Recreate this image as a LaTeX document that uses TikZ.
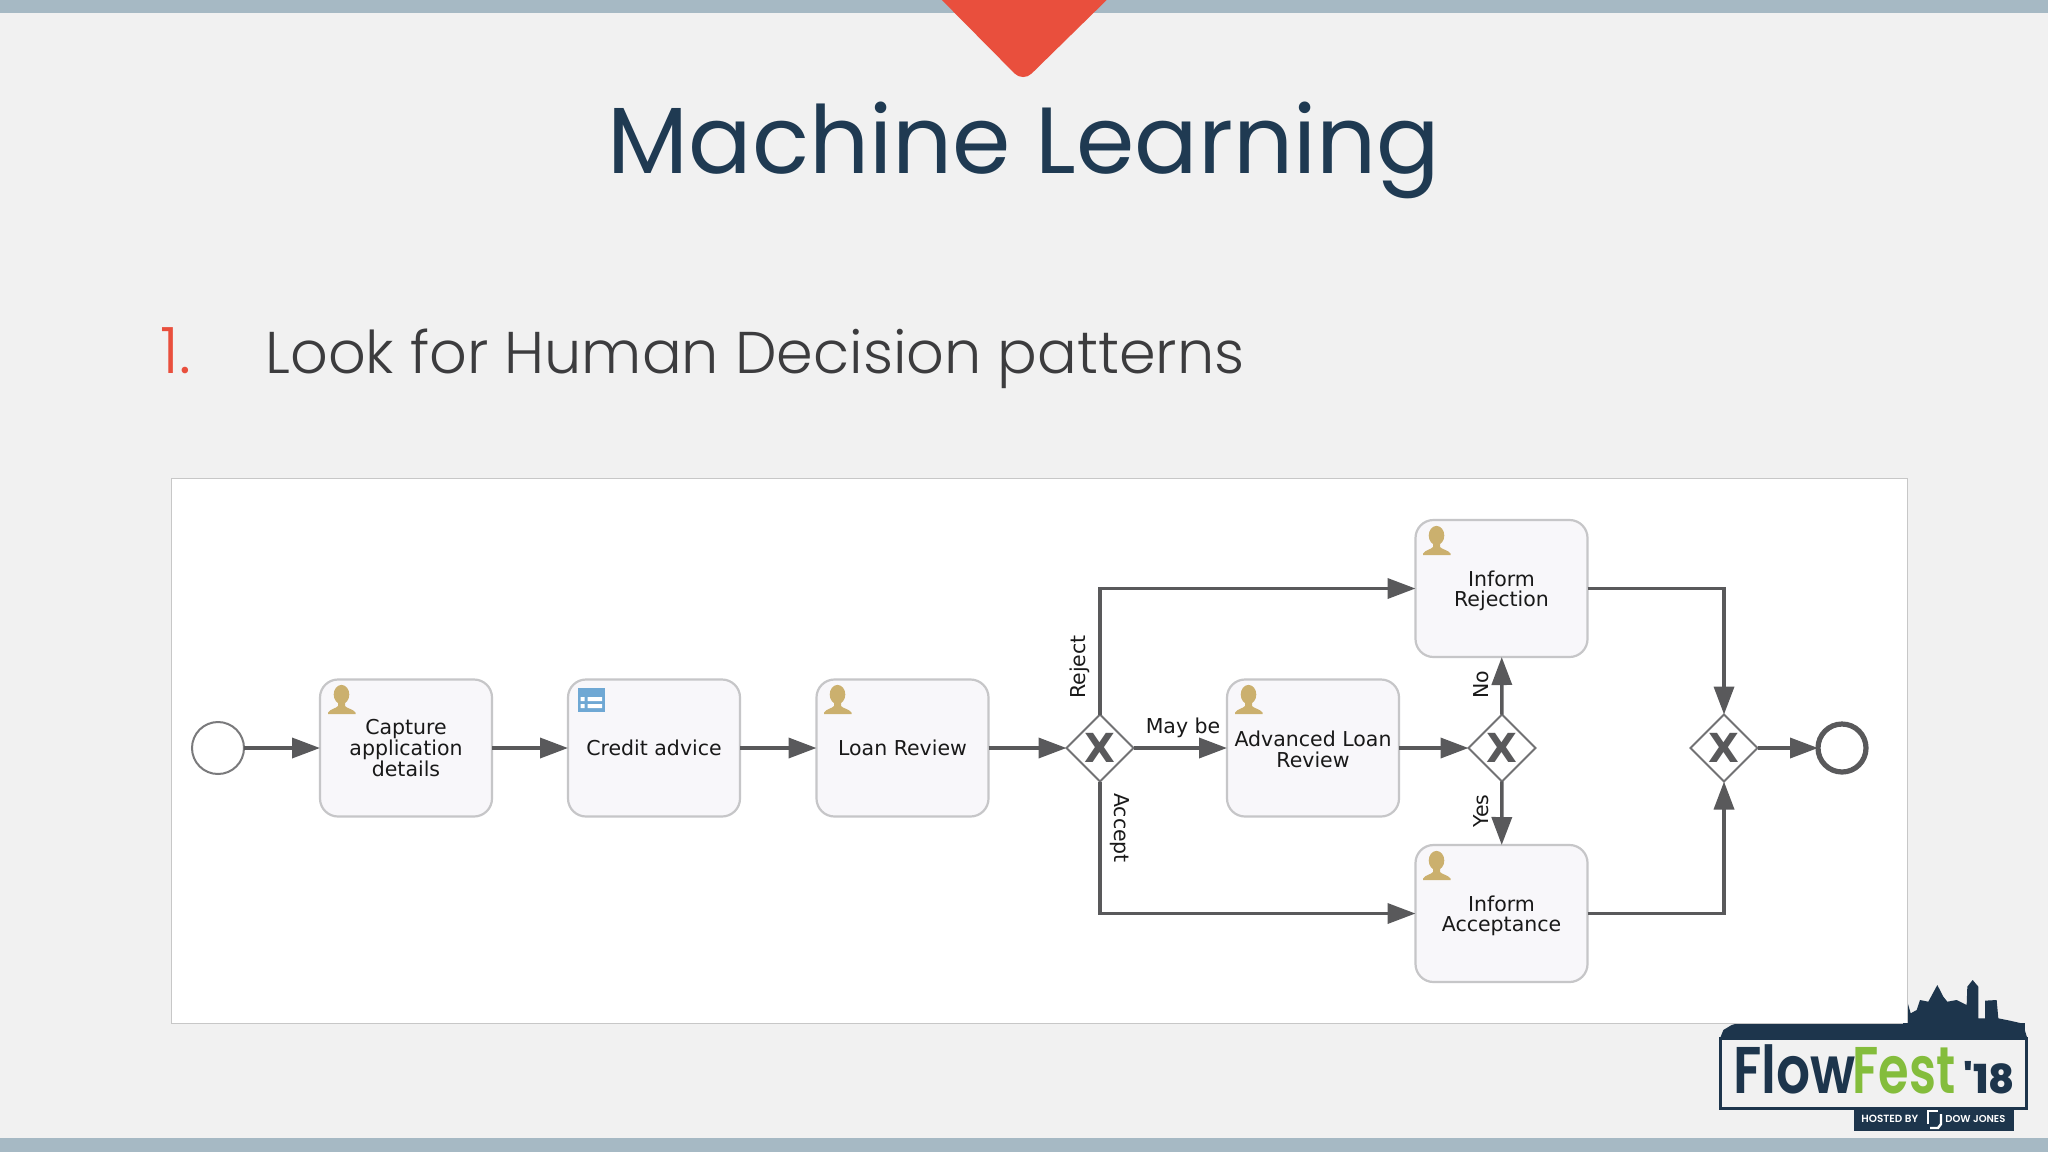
\documentclass[tikz,border=0pt]{standalone}
\usepackage{fontspec}
\usetikzlibrary{arrows.meta,shapes.geometric,calc}
\setmainfont{DejaVu Sans}
\newfontfamily\titlefont{Poppins}
\newfontfamily\lightfont{Poppins Light}
\newfontfamily\logofont{Poppins}[BoldFont={Poppins SemiBold}]
\newfontfamily\logoheavy{Poppins ExtraBold}
\definecolor{bgc}{HTML}{F1F1F1}
\definecolor{barc}{HTML}{A6B9C4}
\definecolor{redc}{HTML}{E94F3D}
\definecolor{navy}{HTML}{1F3A52}
\definecolor{greyt}{HTML}{3C3C3E}
\definecolor{edgec}{HTML}{59595B}
\definecolor{boxb}{HTML}{C6C6C8}
\definecolor{boxf}{HTML}{F8F7FA}
\definecolor{gold}{HTML}{CBB06E}
\definecolor{bluei}{HTML}{6FA8D4}
\definecolor{logod}{HTML}{1D354C}
\definecolor{logog}{HTML}{84BD3C}
\tikzset{
  task/.style={draw=boxb,line width=1.1pt,fill=boxf,rounded corners=9pt,minimum width=86pt,minimum height=68.5pt,inner sep=0pt,outer sep=0pt,align=center,font=\fontsize{10.25}{10.3}\selectfont,text=black!90},
  gate/.style={diamond,draw=edgec!85,line width=1pt,fill=white,minimum width=33.5pt,minimum height=33.5pt,inner sep=0pt,outer sep=0pt,font=\fontsize{20}{20}\bfseries\selectfont,text=edgec},
  flow/.style={draw=edgec,line width=1.8pt,-{Triangle[length=14pt,width=10pt]}},
  lab/.style={font=\fontsize{10.25}{10.3}\selectfont,text=black!90,inner sep=0pt},
}
\newcommand{\usericon}[2]{%
  \begin{scope}[shift={(#1,#2)}]
    \fill[gold] (13.5,8.5) ellipse [x radius=3.9pt,y radius=4.8pt];
    \fill[gold] (0,28) -- (0,26.5) .. controls (2,23) and (8,22.5) .. (10,20) -- (10,13) -- (17,13) -- (17,20) .. controls (19,22.5) and (25,23) .. (27.5,26.5) -- (27.5,28) -- cycle;
  \end{scope}}
\begin{document}
\begin{tikzpicture}[x=0.5pt,y=-0.5pt]
\useasboundingbox (0,0) rectangle (2048,1152);
\fill[bgc] (0,0) rectangle (2048,1152);
\fill[barc] (0,0) rectangle (2048,13);
\fill[barc] (0,1138) rectangle (2048,1152);
\fill[redc,rounded corners=6pt] (928,-14) -- (1023,82) -- (1121,-14) -- cycle;
\node[font=\titlefont\fontsize{47}{47}\selectfont,text=navy,inner sep=0pt] (title) at (1024,150) {Machine Learning};
\node[font=\lightfont\fontsize{32}{32}\selectfont,text=redc,inner sep=0pt,anchor=base west] (num) at (160,373) {1.};
\node[font=\lightfont\fontsize{29.45}{30}\selectfont,text=greyt,inner sep=0pt,anchor=base west] (head) at (265,373) {Look for Human Decision patterns};

% logo skyline below the panel
\begin{scope}[shift={(1690,960)},scale=0.3333]
\fill[logod] (90,235) -- (100,210) -- (125,195) -- (160,185) -- (640,185) -- (652,125) -- (662,160) -- (680,150) -- (690,120) -- (715,125) -- (742,75) -- (760,110) -- (772,125) -- (800,120) -- (830,135) -- (832,80) -- (848,60) -- (865,80) -- (865,175) -- (885,175) -- (885,122) -- (920,120) -- (925,175) -- (960,182) -- (995,190) -- (1005,212) -- (1012,235) -- cycle;
\end{scope}
% panel
\fill[white] (171,478) rectangle (1907,1023);
\draw[black!22,line width=0.5pt] (171,478) rectangle (1907,1023);

% logo
\begin{scope}[shift={(1690,960)},scale=0.3333]
\fill[logod] (640,190) rectangle (1005,235);
\draw[logod,line width=1.5pt,fill=bgc] (92,234) rectangle (1010,445);
\fill[logod] (493,445) rectangle (972,514);
\end{scope}
\node[anchor=base west,inner sep=0pt,font=\logofont\bfseries\fontsize{33}{33}\selectfont,text=logod] (logoa) at (1733,1093) {\scalebox{0.81}[1]{Flow}};
\node[anchor=base east,inner sep=0pt,font=\logofont\bfseries\fontsize{33}{33}\selectfont,text=logog] (logob) at (1956,1093) {\scalebox{0.75}[1]{Fest}};
\node[anchor=base east,inner sep=0pt,font=\logoheavy\fontsize{20}{21}\selectfont,text=logod] (logoc) at (2015,1093) {'18};
\node[anchor=base west,inner sep=0pt,font=\logofont\bfseries\fontsize{5.2}{6}\selectfont,text=white] (logod) at (1861,1122) {HOSTED BY};
\node[anchor=base west,inner sep=0pt,font=\logofont\bfseries\fontsize{5}{6}\selectfont,text=white] (logoe) at (1945,1122) {DOW JONES};
\draw[white,line width=1.2pt] (1928,1124) -- (1928,1111) -- (1938,1111);
\draw[white,line width=1.2pt] (1930,1128) -- (1938,1128) -- (1941,1124) -- (1941,1114);

% process
\node[circle,draw=edgec!80,line width=1pt,fill=white,minimum size=26pt,inner sep=0pt,outer sep=0pt] (start) at (218,748) {};
\node[task] (capture) at (406,748) {Capture\\application\\details};
\node[task] (credit) at (654,748) {Credit advice};
\node[task] (loan) at (902.5,748) {Loan Review};
\node[gate] (g1) at (1100,748) {X};
\node[task] (adv) at (1313,748) {\rule{0pt}{9pt}Advanced Loan\\Review};
\node[gate] (g2) at (1502,748) {X};
\node[task] (rej) at (1501.5,588.5) {\rule{0pt}{10pt}Inform\\Rejection};
\node[task] (acc) at (1501.5,913.5) {\rule{0pt}{10pt}Inform\\Acceptance};
\node[gate] (g3) at (1724,748) {X};
\node[circle,draw=edgec,line width=2.6pt,fill=white,minimum size=24pt,inner sep=0pt,outer sep=0pt] (end) at (1842,748) {};

\draw[flow] (start) -- (capture);
\draw[flow] (capture) -- (credit);
\draw[flow] (credit) -- (loan);
\draw[flow] (loan) -- (g1);
\draw[flow] (g1) -- (adv);
\draw[flow] (adv) -- (g2);
\draw[flow] (g2) -- (rej);
\draw[flow] (g2) -- (acc);
\draw[flow] (g1.north) |- (rej.west);
\draw[flow] (g1.south) |- (acc.west);
\draw[flow] (rej.east) -| (g3.north);
\draw[flow] (acc.east) -| (g3.south);
\draw[flow] (g3) -- (end);

\node[lab] (lmay) at (1183,728) {May be};
\node[lab,rotate=90] (lrej) at (1080,667) {Reject};
\node[lab,rotate=-90] (lacc) at (1120,828) {Accept};
\node[lab,rotate=90] (lno) at (1481,685) {No};
\node[lab,rotate=90] (lyes) at (1481,811) {Yes};

% icons
\usericon{328}{686}
\usericon{824}{686}
\usericon{1235}{686}
\usericon{1423}{527}
\usericon{1423}{852}
\begin{scope}[shift={(577.5,688)}]
\fill[bluei] (0,0) rectangle (27.5,24);
\fill[white] (3,9) rectangle (7,13) (3,16) rectangle (7,20) (10,9) rectangle (24.5,13) (10,16) rectangle (24.5,20);
\end{scope}
\end{tikzpicture}
\end{document}
